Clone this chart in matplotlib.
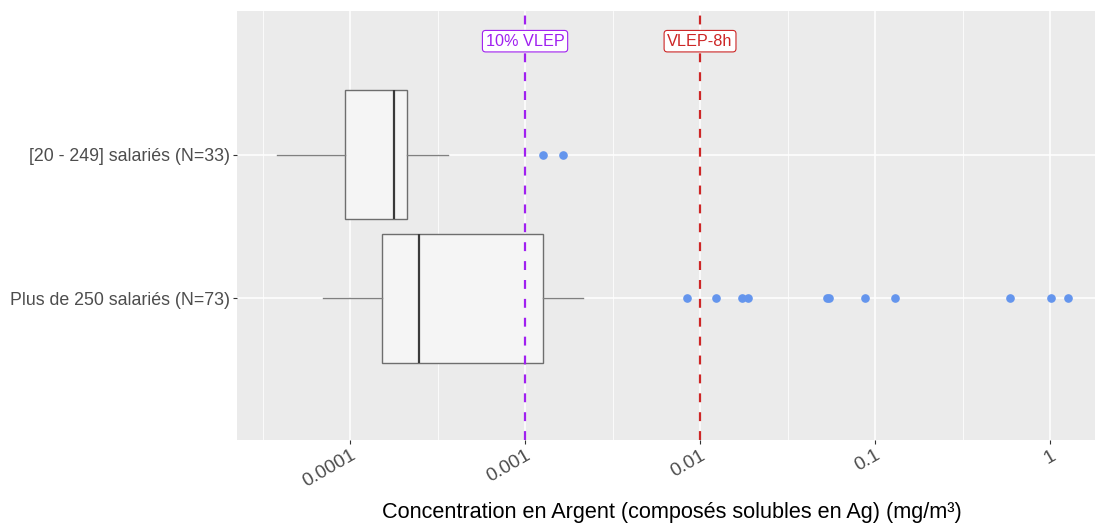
import matplotlib
matplotlib.use("Agg")
import matplotlib.pyplot as plt

plt.rcParams['font.family'] = ['Liberation Sans', 'DejaVu Sans']

# ---- data ----
categories = ["Plus de 250 salariés (N=73)", "[20 - 249] salariés (N=33)"]
whislo = [7.05e-5, 3.81e-5]
q1 = [1.53e-4, 9.35e-5]
med = [2.47e-4, 1.79e-4]
q3 = [1.26e-3, 2.12e-4]
whishi = [2.15e-3, 3.65e-4]
outliers_250 = [8.39e-3, 0.0123, 0.0173, 0.0187, 0.0530, 0.0548, 0.0873, 0.1306, 0.593, 1.01, 1.26]
outliers_20 = [1.26e-3, 1.64e-3]
fliers = [outliers_250, outliers_20]

ref_values = [0.001, 0.01]
ref_labels = ["10% VLEP", "VLEP-8h"]
ref_colors = ["#A020F0", "#CD2626"]

tick_values = [1e-4, 1e-3, 1e-2, 1e-1, 1]
tick_labels = ["0.0001", "0.001", "0.01", "0.1", "1"]
minor_values = [10 ** (k + 0.5) for k in range(-5, 1)]

xlabel = "Concentration en Argent (composés solubles en Ag) (mg/m³)"

# ---- figure ----
W, H = 1095, 523
fig = plt.figure(figsize=(W / 100, H / 100), dpi=100)
left, right, top, bottom = 237, 1095, 11, 440
ax = fig.add_axes([left / W, 1 - bottom / H, (right - left) / W, (bottom - top) / H])
ax.set_facecolor('#EBEBEB')
for s in ax.spines.values():
    s.set_visible(False)

ax.set_xscale('log')

positions = [1, 2]
stats = []
for i in range(len(categories)):
    stats.append(dict(label=categories[i], whislo=whislo[i], q1=q1[i], med=med[i],
                      q3=q3[i], whishi=whishi[i], fliers=fliers[i]))

ax.bxp(stats, positions=positions, widths=0.9, orientation='horizontal',
       patch_artist=True, showcaps=False,
       boxprops=dict(facecolor='#F5F5F5', edgecolor='#6E6E6E', linewidth=1.0),
       medianprops=dict(color='#3A3A3A', linewidth=1.6),
       whiskerprops=dict(color='#808080', linewidth=1.0),
       flierprops=dict(marker='o', markerfacecolor='#6495ED', markeredgecolor='#6495ED',
                       markersize=5.2, linestyle='none'),
       zorder=2)

ax.set_yticks(positions)
ax.set_yticklabels(categories)
ax.set_xticks(tick_values)
ax.set_xticklabels(tick_labels)
ax.set_xticks(minor_values, minor=True)
ax.tick_params(axis='x', which='minor', length=0, labelbottom=False)
ax.grid(which='major', axis='both', color='white', linewidth=1.1)
ax.grid(which='minor', axis='x', color='white', linewidth=0.55)
ax.set_axisbelow(True)

ax.tick_params(axis='y', which='major', length=3, color='#333333', labelcolor='#4D4D4D',
               labelsize=12.8, pad=2)
ax.tick_params(axis='x', which='major', length=3, color='#333333', labelcolor='#4D4D4D',
               labelsize=13.8, pad=2)
for lab in ax.get_xticklabels():
    lab.set_rotation(30)
    lab.set_ha('right')
    lab.set_va('top')
    lab.set_rotation_mode('anchor')

for v, lab, c in zip(ref_values, ref_labels, ref_colors):
    ax.axvline(v, color=c, linestyle=(0, (4, 4.5)), linewidth=1.6, zorder=3)
    ax.text(v, 2.79, lab, ha='center', va='center', color=c, fontsize=11.7, zorder=4,
            bbox=dict(boxstyle='round,pad=0.2', facecolor='white', edgecolor=c, linewidth=0.8))

ax.set_xlim(10 ** -4.646, 10 ** 0.257)
ax.set_ylim(0.014, 3.0)

ax.set_xlabel(xlabel, fontsize=15.6, color='black')
ax.xaxis.set_label_coords((672 - left) / (right - left), -(518 - bottom) / (bottom - top) + 0.0)
ax.xaxis.label.set_va('baseline')

fig.savefig('out.png', dpi=100)
